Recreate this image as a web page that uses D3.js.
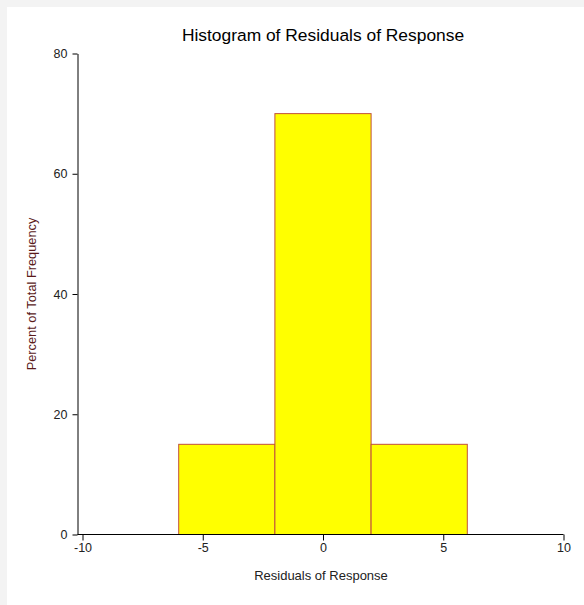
<!DOCTYPE html>
<html>
<head>
<meta charset="utf-8">
<script src="https://cdn.jsdelivr.net/npm/d3@7"></script>
<style>
html,body{margin:0;padding:0;background:#f3f3f3;}
svg{display:block;}
text{font-family:"Liberation Sans",Arial,sans-serif;}
</style>
</head>
<body>
<script>
const binStarts = [-6, -2, 2];
const binEnds = [-2, 2, 6];
const percents = [15, 70, 15];
const xTicks = [-10, -5, 0, 5, 10];
const yTicks = [0, 20, 40, 60, 80];
const title = "Histogram of Residuals of Response";
const xLabel = "Residuals of Response";
const yLabel = "Percent of Total Frequency";

const W = 584, H = 605;
const svg = d3.select("body").append("svg").attr("width", W).attr("height", H);
svg.append("rect").attr("x", 7).attr("y", 7).attr("width", W - 7).attr("height", H - 7).attr("fill", "#fff");

const x = d3.scaleLinear().domain([-10, 10]).range([82, 563]);
const y = d3.scaleLinear().domain([0, 80]).range([534, 53]);

const bins = binStarts.map((s, i) => ({x0: s, x1: binEnds[i], v: percents[i]}));
svg.append("g").selectAll("rect").data(bins).join("rect")
  .attr("x", d => x(d.x0) + 0.5)
  .attr("y", d => y(d.v) + 0.5)
  .attr("width", d => x(d.x1) - x(d.x0))
  .attr("height", d => y(0) - y(d.v))
  .attr("fill", "#ffff00")
  .attr("stroke", "#c0503c")
  .attr("stroke-width", 1);

// x axis
const xg = svg.append("g").attr("transform", `translate(0.5,${y(0) + 0.5})`)
  .call(d3.axisBottom(x).tickValues(xTicks).tickSize(6).tickSizeOuter(0).tickFormat(d => String(d)));
xg.select(".domain").attr("d", `M77,0H${x(10)}`);
// y axis
const yg = svg.append("g").attr("transform", `translate(77.5,0.5)`)
  .call(d3.axisLeft(y).tickValues(yTicks).tickSize(5).tickSizeOuter(0).tickFormat(d => String(d)));
[xg, yg].forEach(g => {
  g.selectAll("text").attr("font-size", 12.5).attr("fill", "#222").attr("font-family", "'Liberation Sans',Arial,sans-serif");
  g.selectAll("line,path").attr("stroke", "#000");
});
xg.selectAll("text").attr("y", 9);
yg.selectAll("text").attr("x", -10);

svg.append("text").attr("x", 323).attr("y", 41).attr("text-anchor", "middle")
  .attr("font-size", 17.4).attr("fill", "#000").text(title);
svg.append("text").attr("x", 321).attr("y", 580).attr("text-anchor", "middle")
  .attr("font-size", 13).attr("fill", "#222").text(xLabel);
svg.append("text").attr("transform", "translate(36,294) rotate(-90)").attr("text-anchor", "middle")
  .attr("font-size", 12.8).attr("fill", "#5a1a1a").text(yLabel);
</script>
</body>
</html>
